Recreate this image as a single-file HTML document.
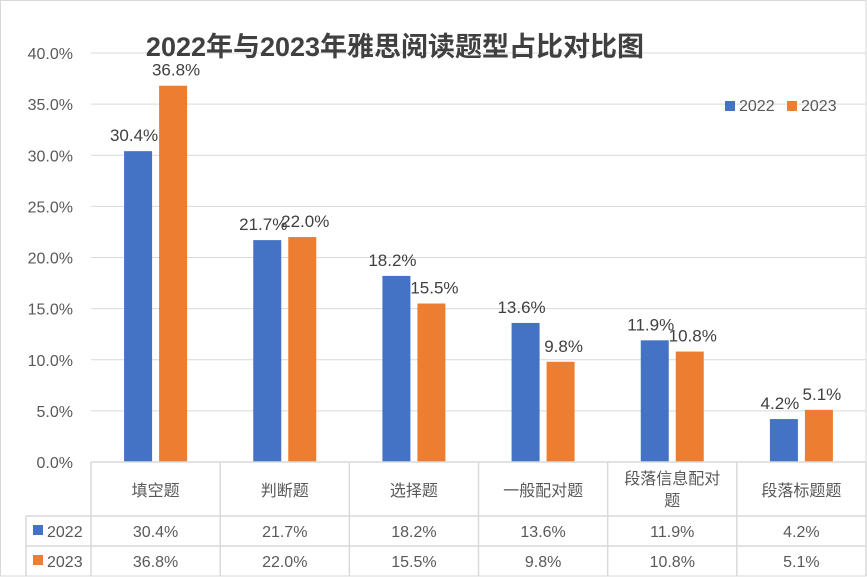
<!DOCTYPE html>
<html><head><meta charset="utf-8"><style>
body{margin:0;background:#fff}
svg{display:block;font-family:"Liberation Sans","Noto Sans CJK SC",sans-serif}
</style></head><body>
<svg id="c" width="867" height="577"></svg>
<script>
const categories=["填空题","判断题","选择题","一般配对题","段落信息配对题","段落标题题"];
const series2022=[30.4,21.7,18.2,13.6,11.9,4.2];
const series2023=[36.8,22.0,15.5,9.8,10.8,5.1];
const yTicks=[0,5,10,15,20,25,30,35,40];
const seriesNames=["2022","2023"];
const colors=["#4472C4","#ED7D31"];
const svg=document.getElementById('c');
const NS="http://www.w3.org/2000/svg";
function mk(t,a,txt){const e=document.createElementNS(NS,t);for(const k in a)e.setAttribute(k,a[k]);if(txt!=null)e.textContent=txt;svg.appendChild(e);return e;}
const x0=91,x1=866,y0=462,yTop=53,vmax=40;
const cw=(x1-x0)/categories.length;
const y=v=>y0-(v/vmax)*(y0-yTop);
const cx=i=>x0+cw*(i+0.5);
// border
let e=mk('rect',{x:0.5,y:0.5,width:865.5,height:575.5,fill:'none',stroke:'#d9d9d9'});

// gridlines & ticks
yTicks.forEach(t=>{
 if(t>0){e=mk('line',{x1:x0,x2:x1,y1:y(t),y2:y(t),stroke:'#d9d9d9','stroke-width':1});
 }
 e=mk('text',{x:73,y:y(t)+6,'text-anchor':'end','font-size':16,fill:'#595959'},t.toFixed(1)+'%');
 
});
// title
e=mk('text',{x:395,y:56,'text-anchor':'middle','font-size':27,'font-weight':'bold',fill:'#404040'},'2022年与2023年雅思阅读题型占比对比图');

// bars
const bw=28,off=17.5;
[series2022,series2023].forEach((s,si)=>{
 s.forEach((v,i)=>{
  const bx=cx(i)+(si?off:-off)-bw/2;
  e=mk('rect',{x:bx,y:y(v),width:bw,height:y0-y(v),fill:colors[si]});
  
  const lx=cx(i)+(si?off:-off)+(si?3:-4);
  e=mk('text',{x:lx,y:y(v)-10,'text-anchor':'middle','font-size':17,fill:'#404040'},v.toFixed(1)+'%');
  
 });
});
// legend
seriesNames.forEach((n,i)=>{
 const lx=725+i*62;
 e=mk('rect',{x:lx,y:101,width:10,height:10,fill:colors[i]});
 
 e=mk('text',{x:lx+14,y:111,'font-size':16,fill:'#595959'},n);
 
});
// table
const rows=[462,516,546,576];
const lineC='#d9d9d9';
function ln(a,b,c,d,n){e=mk('line',{x1:a,y1:b,x2:c,y2:d,stroke:lineC,'stroke-width':1.5});}
ln(x0,rows[0],x1,rows[0],'table-top-line');
ln(26,rows[1],x1,rows[1],'table-row-line');
ln(26,rows[2],x1,rows[2],'table-row-line');
ln(26,rows[1],26,rows[3],'table-left-line');
for(let i=0;i<=categories.length;i++)ln(x0+cw*i,rows[0],x0+cw*i,rows[3],'table-col-line');
categories.forEach((c,i)=>{
 if(c.length>5){
  e=mk('text',{x:cx(i),y:484,'text-anchor':'middle','font-size':16,fill:'#595959'},c.slice(0,6));
  
  e=mk('text',{x:cx(i),y:506,'text-anchor':'middle','font-size':16,fill:'#595959'},c.slice(6));
  
 }else{
  e=mk('text',{x:cx(i),y:496,'text-anchor':'middle','font-size':16,fill:'#595959'},c);
  
 }
});
[series2022,series2023].forEach((s,si)=>{
 const ry=rows[1+si]+21;
 e=mk('rect',{x:33,y:ry-12,width:10,height:10,fill:colors[si]});
 
 e=mk('text',{x:47,y:ry,'font-size':16,fill:'#595959'},seriesNames[si]);
 
 s.forEach((v,i)=>{
  e=mk('text',{x:cx(i),y:ry,'text-anchor':'middle','font-size':16,fill:'#595959'},v.toFixed(1)+'%');
  
 });
});
</script>
</body></html>
